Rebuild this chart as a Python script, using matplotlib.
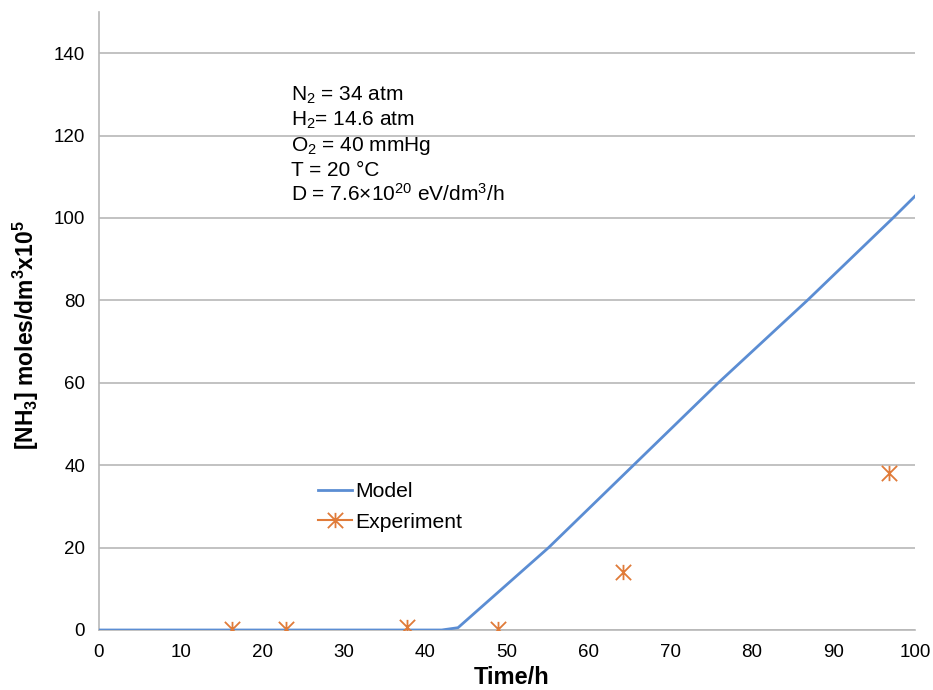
import matplotlib
matplotlib.use("Agg")
import matplotlib.pyplot as plt
from matplotlib.path import Path
from matplotlib.lines import Line2D

plt.rcParams['font.family'] = ['Liberation Sans', 'DejaVu Sans']
plt.rcParams['mathtext.fontset'] = 'custom'
plt.rcParams['mathtext.rm'] = 'Liberation Sans'
plt.rcParams['mathtext.it'] = 'Liberation Sans:italic'
plt.rcParams['mathtext.bf'] = 'Liberation Sans:bold'

# Data
model_t = [0, 42, 44, 55.1, 75.9, 86.8, 97.3, 100]
model_y = [0, 0, 0.56, 20, 60, 80, 100, 105.3]
exp_t = [16.3, 22.9, 37.7, 48.9, 64.2, 96.8]
exp_y = [0.3, 0.3, 0.8, 0.3, 14.1, 38.1]
x_ticks = list(range(0, 101, 10))
y_ticks = list(range(0, 141, 20))
annot_lines = [r'N$_2$ = 34 atm', r'H$_2$= 14.6 atm', r'O$_2$ = 40 mmHg',
               'T = 20 °C', r'D = 7.6×10$^{20}$ eV/dm$^3$/h']

blue = '#5B8DD3'
orange = '#E07B39'
grid_c = '#B8B8B8'

star = Path([(-1, -1), (1, 1), (-1, 1), (1, -1), (0, -1), (0, 1)],
            [Path.MOVETO, Path.LINETO, Path.MOVETO, Path.LINETO, Path.MOVETO, Path.LINETO])

fig = plt.figure(figsize=(9.33, 6.9), dpi=100)
ax = fig.add_axes([99/933, 1-630/690, 816/933, 618/690])

ax.plot(model_t, model_y, color=blue, lw=2, zorder=3)
ax.plot(exp_t, exp_y, linestyle='none', marker=star, markersize=11,
        markeredgewidth=1.3, color=orange, zorder=4)

ax.set_xlim(0, 100)
ax.set_ylim(0, 150)
ax.set_xticks(x_ticks)
ax.set_yticks(y_ticks)
ax.tick_params(length=0, labelsize=13.5, colors='black')
ax.tick_params(axis='y', pad=10)
ax.tick_params(axis='x', pad=10)
ax.grid(axis='y', color=grid_c, lw=1.2)
ax.set_axisbelow(True)
for s in ['top', 'right']:
    ax.spines[s].set_visible(False)
for s in ['left', 'bottom']:
    ax.spines[s].set_color(grid_c)
    ax.spines[s].set_linewidth(1.2)

ax.set_xlabel('Time/h', fontsize=17, fontweight='bold')
ax.xaxis.set_label_coords((512-99)/816, (630-666)/618)
ax.set_ylabel(r'[NH$_\mathbf{3}$] moles/dm$^\mathbf{3}$x10$^\mathbf{5}$',
              fontsize=16.5, fontweight='bold')
ax.yaxis.set_label_coords((41-99)/816, (630-335)/618)

for i, t in enumerate(annot_lines):
    fig.text(291/933, 1-(101+25*i)/690, t, fontsize=15, va='baseline', ha='left')

h1 = Line2D([], [], color=blue, lw=2)
h2 = Line2D([], [], color=orange, lw=1.5, marker=star, markersize=11, markeredgewidth=1.3)
ax.legend([h1, h2], ['Model', 'Experiment'], frameon=False, fontsize=15.2,
          loc='upper left', bbox_to_anchor=((318-99)/816, (630-482)/618),
          borderpad=0, borderaxespad=0, handlelength=1.6, handletextpad=0.15,
          labelspacing=0.55, numpoints=1)

fig.savefig('out.png', dpi=100)
